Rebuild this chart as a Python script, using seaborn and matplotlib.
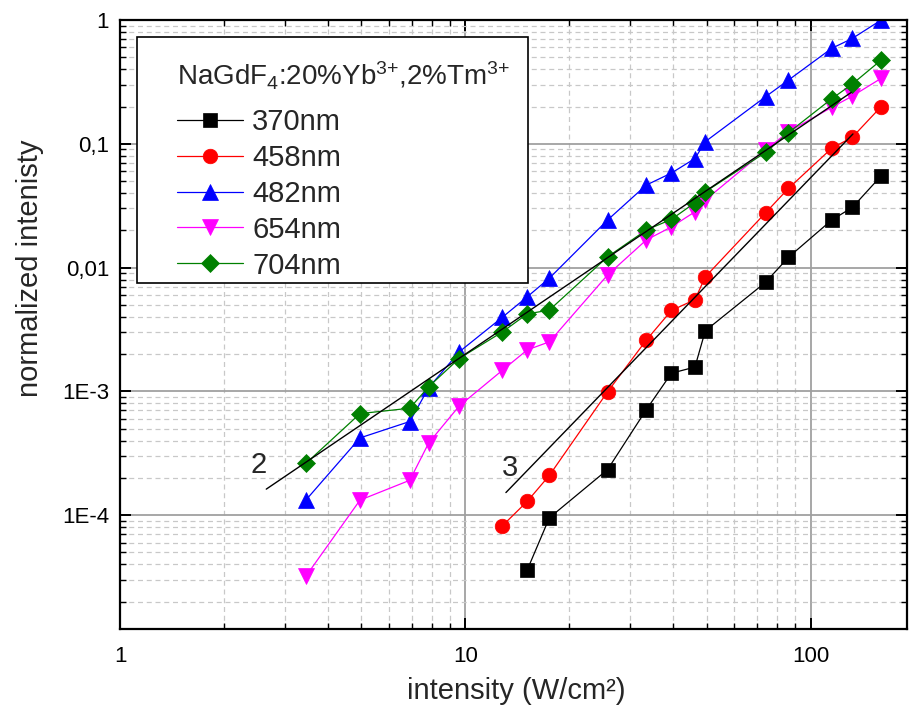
import matplotlib
matplotlib.use("Agg")
import matplotlib.pyplot as plt
from matplotlib.patches import Rectangle
from matplotlib.ticker import FixedLocator, FixedFormatter, LogLocator, NullFormatter
import seaborn as sns

# excitation intensity (W/cm2)
x_all = [3.45, 4.95, 6.9, 7.83, 9.59, 12.8, 15.1, 17.5, 25.8, 33.4, 39.5,
         46.2, 49.5, 74.0, 86.2, 115.0, 132.0, 160.0]
x_458 = x_all[5:]
x_370 = x_all[6:]

# normalized emission intensity
y_370 = [3.6e-5, 9.5e-5, 2.33e-4, 7.1e-4, 1.40e-3, 1.57e-3, 3.08e-3, 7.6e-3,
         0.0121, 0.0242, 0.0306, 0.0551]
y_458 = [8.2e-5, 1.29e-4, 2.09e-4, 9.9e-4, 2.59e-3, 4.5e-3, 5.5e-3, 8.4e-3,
         0.0277, 0.0436, 0.092, 0.113, 0.20]
y_482 = [1.32e-4, 4.2e-4, 5.7e-4, 1.07e-3, 2.08e-3, 3.97e-3, 5.8e-3, 8.2e-3,
         0.0242, 0.0464, 0.058, 0.076, 0.104, 0.24, 0.327, 0.59, 0.71, 1.0]
y_654 = [3.2e-5, 1.32e-4, 1.91e-4, 3.83e-4, 7.6e-4, 1.48e-3, 2.16e-3, 2.51e-3,
         8.7e-3, 0.0167, 0.0213, 0.0282, 0.0351, 0.089, 0.125, 0.197, 0.243, 0.338]
y_704 = [2.61e-4, 6.6e-4, 7.3e-4, 1.09e-3, 1.84e-3, 3.02e-3, 4.22e-3, 4.53e-3,
         0.0122, 0.0201, 0.0245, 0.0334, 0.0409, 0.0852, 0.123, 0.231, 0.304, 0.475]

# guide lines with slope 2 and 3
fit2_x = [2.65, 131.0]
fit2_y = [1.62e-4, 0.26]
fit3_x = [13.1, 132.5]
fit3_y = [1.52e-4, 0.12]

y_ticks = [1e-4, 1e-3, 1e-2, 1e-1, 1]
y_tick_labels = ["1E-4", "1E-3", "0,01", "0,1", "1"]
x_ticks = [1, 10, 100]
x_tick_labels = ["1", "10", "100"]

sns.set_style("ticks")
plt.rcParams["font.family"] = ["Liberation Sans", "DejaVu Sans"]
plt.rcParams["mathtext.default"] = "regular"

fig = plt.figure(figsize=(9.1, 7.17), dpi=100)
ax = fig.add_axes([0.132, 0.1227, 0.8647, 0.8494])
ax.set_xscale("log")
ax.set_yscale("log")

series = [
    ("370nm", x_370, y_370, "black", "s", 9.5),
    ("458nm", x_458, y_458, "#ff0000", "o", 10.5),
    ("482nm", x_all, y_482, "#0000ff", "^", 11.5),
    ("654nm", x_all, y_654, "#ff00ff", "v", 11.5),
    ("704nm", x_all, y_704, "#008000", "D", 9.0),
]
for name, xs, ys, col, mk, ms in series:
    sns.lineplot(x=xs, y=ys, ax=ax, color=col, marker=mk, markersize=ms,
                 markeredgecolor=col, markeredgewidth=0.5, linewidth=0.9,
                 label=name, sort=False, estimator=None, legend=False)

ax.plot(fit2_x, fit2_y, color="black", lw=1.0, zorder=3)
ax.plot(fit3_x, fit3_y, color="black", lw=1.0, zorder=3)
ax.text(2.52, 2.53e-4, "2", fontsize=21, ha="center", va="center")
ax.text(13.5, 2.39e-4, "3", fontsize=21, ha="center", va="center")

ax.set_xlim(1, 190)
ax.set_ylim(1.2e-5, 1)

ax.xaxis.set_major_locator(FixedLocator(x_ticks))
ax.xaxis.set_major_formatter(FixedFormatter(x_tick_labels))
ax.yaxis.set_major_locator(FixedLocator(y_ticks))
ax.yaxis.set_major_formatter(FixedFormatter(y_tick_labels))
ax.xaxis.set_minor_locator(LogLocator(base=10, subs=range(2, 10), numticks=20))
ax.yaxis.set_minor_locator(LogLocator(base=10, subs=range(2, 10), numticks=20))
ax.xaxis.set_minor_formatter(NullFormatter())
ax.yaxis.set_minor_formatter(NullFormatter())

ax.set_axisbelow(True)
ax.grid(which="major", color="#a0a0a0", linestyle="-", linewidth=1.3)
ax.grid(which="minor", color="#c8c8c8", linestyle=(0, (4, 3)), linewidth=0.9)

ax.tick_params(which="both", direction="in", top=True, right=True,
               colors="black", labelsize=16)
ax.tick_params(which="major", length=8, width=1.4)
ax.tick_params(which="minor", length=4, width=1.0)
ax.tick_params(axis="x", pad=12)
ax.tick_params(axis="y", pad=8)
for sp in ax.spines.values():
    sp.set_linewidth(1.6)
    sp.set_color("black")

ax.set_xlabel("intensity (W/cm²)", fontsize=21)
ax.set_ylabel("normalized intenisty", fontsize=21)
ax.xaxis.set_label_coords(0.503, -0.078)
ax.yaxis.set_label_coords(-0.097, 0.593)

# legend box with title and entries
ax.add_patch(Rectangle((0.0216, 0.568), 0.4968, 0.404, transform=ax.transAxes,
                       facecolor="white", edgecolor="black", linewidth=1.2,
                       zorder=4.5))
ax.text(0.0724, 0.909, r"NaGdF$_4$:20%Yb$^{3{+}}$,2%Tm$^{3{+}}$",
        transform=ax.transAxes, fontsize=20, ha="left", va="center", zorder=6)
handles, labels = ax.get_legend_handles_labels()
leg = ax.legend(handles, labels, loc="upper left",
                bbox_to_anchor=(0.0724, 0.8555), borderaxespad=0, borderpad=0,
                frameon=False, fontsize=21,
                handlelength=2.26, handletextpad=0.31, labelspacing=0.27)
leg.set_zorder(6)

fig.savefig("out.png", dpi=100)
